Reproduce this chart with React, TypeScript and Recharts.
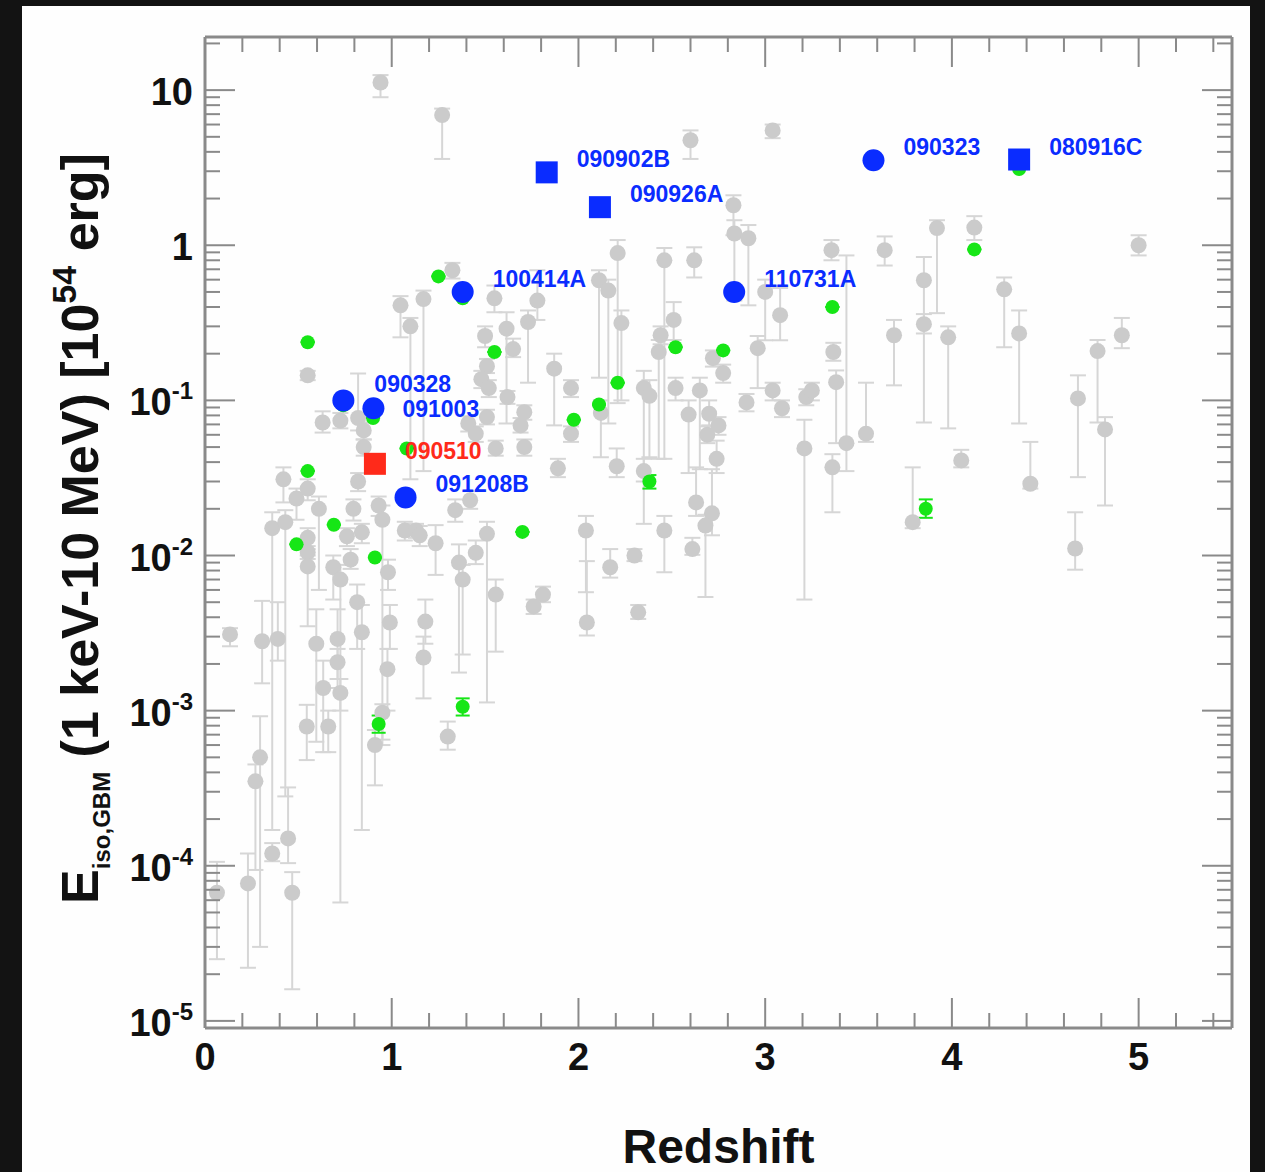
import React from "react";
import { ScatterChart, Scatter, XAxis, YAxis, ErrorBar } from "recharts";

// ---------------------------------------------------------------------------
// Data (redshift z, E_iso in 10^54 erg, error-bar low / high bounds)
// ---------------------------------------------------------------------------

const grayZ = [
  0.064, 0.23, 0.27, 0.295, 0.36, 0.445, 0.467, 0.545, 0.66, 0.91, 1.3, 0.95,
  0.134, 0.306, 0.39, 0.42, 0.36, 0.43, 0.49, 0.55, 0.55, 0.61, 0.55, 0.55, 0.55,
  0.596, 0.633, 0.687, 0.725, 0.71, 0.71, 0.725, 0.76, 0.78, 0.795, 0.815, 0.84,
  0.84, 0.82, 0.85, 0.82, 0.85, 0.725, 0.63, 0.93, 0.95, 0.98, 0.99, 0.977, 1.07,
  1.13, 1.15, 1.235, 1.18, 1.17, 1.34, 1.36, 1.38, 1.42, 1.45, 1.51, 1.557, 1.557,
  1.62, 1.71, 1.69, 1.71, 1.76, 1.81, 1.89, 1.96, 1.96, 2.04, 2.045, 1.41, 1.45,
  1.51, 0.94, 1.27, 2.6, 3.04, 2.83, 2.835, 2.91, 2.21, 2.46, 2.62, 2.23, 1.325,
  2.11, 2.16, 3.0, 3.08, 1.17, 1.1, 1.047, 1.55, 1.78, 1.73, 1.615, 1.5, 1.65,
  1.51, 1.48, 1.52, 1.87, 2.12, 2.35, 2.38, 2.43, 2.44, 2.51, 2.52, 2.65, 2.59,
  2.7, 2.69, 2.75, 2.74, 2.72, 2.775, 2.96, 2.9, 3.04, 3.09, 3.22, 3.25, 3.21,
  3.355, 3.64, 3.92, 4.12, 5.0, 3.85, 4.28, 3.365, 3.38, 3.435, 3.36, 3.54, 3.69,
  3.85, 3.98, 4.05, 3.79, 4.36, 4.42, 4.675, 4.78, 4.82, 4.91, 4.66, 2.63, 2.715,
  2.68, 2.61, 2.46, 2.3, 2.17, 2.32, 2.205, 2.35,
];
const grayE = [
  6.7e-5, 7.7e-5, 3.5e-4, 5.0e-4, 1.2e-4, 1.5e-4, 6.7e-5, 7.9e-4, 7.9e-4, 6.0e-4, 6.8e-4, 9.7e-4,
  3.1e-3, 2.8e-3, 2.9e-3, 0.031, 0.015, 0.0164, 0.0233, 0.027, 0.145, 0.02, 0.013, 0.0105, 0.0085,
  2.7e-3, 1.4e-3, 8.4e-3, 7.0e-3, 2.9e-3, 2.05e-3, 1.3e-3, 0.0133, 9.4e-3, 0.02, 5.0e-3, 3.2e-3,
  0.0141, 0.03, 0.05, 0.077, 0.064, 0.074, 0.072, 0.021, 0.017, 7.8e-3, 3.7e-3, 1.85e-3, 0.0145,
  0.0145, 0.0135, 0.012, 3.75e-3, 2.2e-3, 0.0196, 9.0e-3, 7.0e-3, 0.0227, 0.0104, 0.0138, 5.6e-3, 0.049,
  0.105, 0.05, 0.069, 0.084, 4.7e-3, 5.6e-3, 0.0365, 0.12, 0.061, 0.0145, 3.7e-3, 0.071, 0.061,
  0.078, 11.2, 6.9, 4.75, 5.5, 1.81, 1.19, 1.11, 0.89, 0.8, 0.8, 0.315, 0.69,
  0.595, 0.51, 0.5, 0.354, 0.45, 0.3, 0.41, 0.455, 0.44, 0.32, 0.29, 0.26, 0.214,
  0.166, 0.137, 0.12, 0.16, 0.083, 0.12, 0.107, 0.205, 0.263, 0.33, 0.12, 0.116, 0.081,
  0.082, 0.06, 0.069, 0.042, 0.187, 0.15, 0.217, 0.097, 0.116, 0.089, 0.105, 0.116, 0.049,
  0.93, 0.93, 1.29, 1.3, 1.0, 0.595, 0.52, 0.205, 0.131, 0.053, 0.037, 0.061, 0.263,
  0.31, 0.255, 0.041, 0.0164, 0.27, 0.029, 0.103, 0.208, 0.065, 0.263, 0.0111, 0.022, 0.0187,
  0.0156, 0.011, 0.0145, 0.01, 0.0084, 4.3e-3, 0.0376, 0.035,
];
const grayLo = [
  2.5e-5, 2.2e-5, 9.4e-5, 3.0e-5, 1.07e-4, 1.04e-4, 1.6e-5, 4.8e-4, 5.4e-4, 3.3e-4, 5.6e-4, 6.5e-4,
  2.6e-3, 1.5e-3, 2.1e-3, 0.022, 1.7e-4, 2.8e-4, 0.017, 0.0227, 0.135, 0.006, 0.011, 0.0095, 3.5e-3,
  6.3e-4, 5.4e-4, 5.2e-3, 5.8e-5, 1.6e-3, 1.4e-3, 1.0e-3, 0.0115, 8.2e-3, 0.0168, 2.5e-3, 1.7e-4,
  0.012, 0.026, 0.044, 0.064, 0.056, 0.066, 0.062, 0.018, 6.0e-4, 6.0e-3, 2.5e-3, 1.0e-3, 0.0125,
  0.013, 0.0115, 7.5e-3, 2.7e-3, 1.2e-3, 0.0165, 1.76e-3, 2.3e-3, 0.02, 8.8e-3, 1.13e-3, 2.4e-3, 0.044,
  0.095, 0.044, 0.062, 0.075, 4.2e-3, 5.0e-3, 0.032, 0.105, 0.054, 5.8e-3, 3.05e-3, 0.063, 0.054,
  0.07, 9.0, 3.6, 3.6, 4.9, 1.16, 0.44, 0.41, 0.096, 0.042, 0.62, 0.1, 0.61,
  0.14, 0.071, 0.244, 0.244, 0.035, 0.031, 0.255, 0.37, 0.33, 0.13, 0.071, 0.22, 0.19,
  0.15, 0.12, 0.105, 0.069, 0.043, 0.016, 0.043, 0.042, 0.23, 0.245, 0.1, 0.036, 0.034,
  0.069, 0.053, 0.06, 0.034, 0.165, 0.13, 0.12, 0.085, 0.1, 0.078, 0.093, 0.1, 5.2e-3,
  0.8, 0.74, 0.365, 1.08, 0.86, 0.072, 0.22, 0.18, 0.053, 0.035, 0.019, 0.054, 0.125,
  0.27, 0.066, 0.037, 0.015, 0.071, 0.027, 0.032, 0.072, 0.021, 0.217, 8.1e-3, 0.018, 0.0135,
  5.4e-3, 0.0101, 7.8e-3, 9.2e-3, 7.2e-3, 3.9e-3, 0.032, 0.03,
];
const grayHi = [
  1.06e-4, 1.2e-4, 4.5e-4, 9.2e-4, 1.4e-4, 3.2e-4, 9.1e-5, 1.09e-3, 1.0e-3, 7.5e-4, 8.5e-4, 1.1e-3,
  3.4e-3, 5.1e-3, 5.0e-3, 0.037, 0.019, 0.0196, 0.027, 0.031, 0.155, 0.024, 0.015, 0.0115, 0.01,
  4.5e-3, 2.1e-3, 0.01, 8.7e-3, 4.5e-3, 2.5e-3, 1.6e-3, 0.015, 0.011, 0.023, 6.5e-3, 4.8e-3,
  0.016, 0.034, 0.056, 0.149, 0.072, 0.083, 0.085, 0.024, 0.021, 9.4e-3, 4.8e-3, 2.5e-3, 0.0165,
  0.016, 0.0155, 0.0157, 5.2e-3, 3.0e-3, 0.023, 0.0118, 8.7e-3, 0.026, 0.0125, 0.0165, 7.0e-3, 0.055,
  0.115, 0.056, 0.077, 0.093, 5.2e-3, 6.3e-3, 0.042, 0.135, 0.068, 0.018, 9.2e-3, 0.079, 0.068,
  0.087, 12.5, 7.6, 5.5, 6.0, 2.1, 1.45, 1.35, 1.08, 0.96, 0.97, 0.38, 0.77,
  0.69, 0.6, 0.6, 0.53, 0.51, 0.34, 0.47, 0.55, 0.69, 0.38, 0.37, 0.3, 0.25,
  0.185, 0.155, 0.135, 0.2, 0.1, 0.155, 0.135, 0.245, 0.3, 0.43, 0.14, 0.14, 0.1,
  0.1, 0.068, 0.078, 0.055, 0.21, 0.17, 0.26, 0.11, 0.13, 0.1, 0.118, 0.13, 0.075,
  1.08, 1.14, 1.45, 1.54, 1.16, 0.84, 0.62, 0.235, 0.156, 0.86, 0.045, 0.13, 0.33,
  0.36, 0.3, 0.048, 0.037, 0.38, 0.054, 0.145, 0.245, 0.078, 0.34, 0.019, 0.037, 0.036,
  0.0183, 0.013, 0.018, 0.011, 0.011, 4.8e-3, 0.049, 0.042,
];

const greenZ = [
  0.55, 0.74, 0.9, 1.08, 0.55, 0.69, 0.49, 0.91, 0.93, 1.38, 1.25, 1.38,
  1.55, 1.7, 1.975, 2.11, 2.21, 2.38, 2.52, 2.775, 3.36, 4.12, 3.86, 4.36,
];
const greenE = [
  0.237, 0.093, 0.077, 0.049, 0.035, 0.0158, 0.0118, 0.0097, 8.2e-4, 1.06e-3, 0.63, 0.455,
  0.205, 0.0142, 0.075, 0.094, 0.13, 0.03, 0.22, 0.21, 0.4, 0.94, 0.02, 3.1,
];
const greenLo = [
  0.237, 0.093, 0.077, 0.049, 0.035, 0.0158, 0.0118, 0.0097, 7.2e-4, 9.3e-4, 0.63, 0.455,
  0.205, 0.0142, 0.075, 0.094, 0.13, 0.027, 0.22, 0.21, 0.4, 0.94, 0.0175, 3.1,
];
const greenHi = [
  0.237, 0.093, 0.077, 0.049, 0.035, 0.0158, 0.0118, 0.0097, 9.3e-4, 1.2e-3, 0.63, 0.455,
  0.205, 0.0142, 0.075, 0.094, 0.13, 0.033, 0.22, 0.21, 0.4, 0.94, 0.023, 3.1,
];

const circleNames = ["090328", "091003", "091208B", "100414A", "110731A", "090323"];
const circleZ = [0.741, 0.902, 1.074, 1.38, 2.834, 3.58];
const circleE = [0.1, 0.089, 0.0237, 0.5, 0.5, 3.53];

const squareNames = ["090902B", "090926A", "080916C"];
const squareZ = [1.83, 2.115, 4.36];
const squareE = [2.95, 1.76, 3.57];

const redNames = ["090510"];
const redZ = [0.91];
const redE = [0.039];

// ---------------------------------------------------------------------------
// Styling
// ---------------------------------------------------------------------------

const FONT = "'Liberation Sans', Arial, Helvetica, sans-serif";
const FRAME = "#8a8a8a";
const BLUE = "#0a2cff";
const RED = "#ff2a1a";
const GREEN = "#16e616";
const GRAY = "#cbcbcb";

// label offset (px) from marker centre, per burst name
const labelOffset: Record<string, [number, number]> = {
  "090328": [31, -17],
  "091003": [29, 0],
};

const Y_DOMAIN: [number, number] = [9e-6, 22];
const X_DOMAIN: [number, number] = [0, 5.5];

const xTicks = Array.from({ length: 28 }, (_, i) => Number((i * 0.2).toFixed(1)));
const yTicks: number[] = [];
for (let e = -6; e <= 1; e++) {
  for (let m = 1; m <= 9; m++) {
    const v = m * Math.pow(10, e);
    if (v >= Y_DOMAIN[0] && v <= Y_DOMAIN[1]) yTicks.push(v);
  }
}

const isMajorY = (v: number) => {
  const e = Math.round(Math.log10(v));
  return Math.abs(v / Math.pow(10, e) - 1) < 1e-6;
};
const isMajorX = (v: number) => Math.abs(v - Math.round(v)) < 1e-6;

// ---------------------------------------------------------------------------
// Axis ticks
// ---------------------------------------------------------------------------

const LeftTick = ({ x, y, payload }: any) => {
  const v = payload.value;
  const major = isMajorY(v);
  const exp = Math.round(Math.log10(v));
  return (
    <g>
      <line x1={x} x2={x + (major ? 30 : 15)} y1={y} y2={y} stroke={FRAME} strokeWidth={2} />
      {major && (
        <text x={x - 12} y={y + 15} textAnchor="end" fontSize={38} fontWeight={700} fontFamily={FONT} fill="#111">
          {exp === 1 ? "10" : exp === 0 ? "1" : (
            <>
              <tspan>10</tspan>
              <tspan dy={-16} fontSize={24}>{String(exp)}</tspan>
            </>
          )}
        </text>
      )}
    </g>
  );
};

const RightTick = ({ x, y, payload }: any) => {
  const major = isMajorY(payload.value);
  return <line x1={x} x2={x - (major ? 30 : 15)} y1={y} y2={y} stroke={FRAME} strokeWidth={2} />;
};

const BottomTick = ({ x, y, payload }: any) => {
  const v = payload.value;
  const major = isMajorX(v);
  return (
    <g>
      <line x1={x} x2={x} y1={y} y2={y - (major ? 30 : 15)} stroke={FRAME} strokeWidth={2} />
      {major && (
        <text x={x} y={y + 42} textAnchor="middle" fontSize={38} fontWeight={700} fontFamily={FONT} fill="#111">
          {String(Math.round(v))}
        </text>
      )}
    </g>
  );
};

const TopTick = ({ x, y, payload }: any) => {
  const major = isMajorX(payload.value);
  return <line x1={x} x2={x} y1={y} y2={y + (major ? 30 : 15)} stroke={FRAME} strokeWidth={2} />;
};

// ---------------------------------------------------------------------------
// Axis titles
// ---------------------------------------------------------------------------

const XTitle = (props: any) => {
  const vb = props.viewBox || { x: 205, y: 1028, width: 1027, height: 100 };
  return (
    <text x={vb.x + vb.width / 2} y={vb.y + 135} textAnchor="middle" fontSize={48} fontWeight={700} fontFamily={FONT} fill="#111">
      Redshift
    </text>
  );
};

const YTitle = (props: any) => {
  const vb = props.viewBox || { x: 85, y: 37, width: 120, height: 991 };
  const cy = vb.y + vb.height / 2 - 4;
  return (
    <text
      transform={`translate(98,${cy}) rotate(-90)`}
      textAnchor="middle"
      fontSize={52}
      fontWeight={700}
      fontFamily={FONT}
      fill="#111"
      style={{ whiteSpace: "pre" }}
    >
      <tspan>E</tspan>
      <tspan fontSize={24} dy={12}>iso,GBM</tspan>
      <tspan dy={-12}> (1 keV-10 MeV) [10</tspan>
      <tspan fontSize={34} dy={-22}>54</tspan>
      <tspan dy={22}> erg]</tspan>
    </text>
  );
};

// ---------------------------------------------------------------------------
// Markers
// ---------------------------------------------------------------------------

const GrayDot = ({ cx, cy }: any) => <circle cx={cx} cy={cy} r={8} fill={GRAY} />;
const GreenDot = ({ cx, cy }: any) => <circle cx={cx} cy={cy} r={7} fill={GREEN} />;

const namedMark = (kind: "circle" | "square", color: string) => (props: any) => {
  const { cx, cy, payload } = props;
  const [dx, dy] = labelOffset[payload.name] ?? [30, -14];
  return (
    <g>
      {kind === "circle" ? (
        <circle cx={cx} cy={cy} r={11} fill={color} />
      ) : (
        <rect x={cx - 11} y={cy - 11} width={22} height={22} fill={color} />
      )}
      <text x={cx + dx} y={cy + dy + 9} fontSize={23} fontWeight={700} fontFamily={FONT} fill={color}>
        {payload.name}
      </text>
    </g>
  );
};

const withErr = (z: number[], e: number[], lo: number[], hi: number[]) =>
  z.map((zz, i) => ({ z: zz, e: e[i], err: [e[i] - lo[i], hi[i] - e[i]] }));

const named = (names: string[], z: number[], e: number[]) =>
  names.map((name, i) => ({ name, z: z[i], e: e[i] }));

const grayData = withErr(grayZ, grayE, grayLo, grayHi);
const greenData = withErr(greenZ, greenE, greenLo, greenHi);
const circleData = named(circleNames, circleZ, circleE);
const squareData = named(squareNames, squareZ, squareE);
const redData = named(redNames, redZ, redE);

// ---------------------------------------------------------------------------
// App
// ---------------------------------------------------------------------------

export default function App() {
  return (
    <div style={{ position: "absolute", left: 0, top: 0, width: 1265, height: 1172, background: "#131313", overflow: "hidden" }}>
      <div style={{ position: "absolute", left: 22, top: 6, width: 1228, height: 1166, background: "#fefefe" }} />
      <div style={{ position: "absolute", left: 0, top: 0 }}>
        <ScatterChart width={1265} height={1172} margin={{ top: 36, right: 32, bottom: 44, left: 85 }}>
          <XAxis
            xAxisId="b"
            dataKey="z"
            type="number"
            domain={X_DOMAIN}
            allowDataOverflow
            ticks={xTicks}
            interval={0}
            tick={(p: any) => <BottomTick {...p} />}
            tickLine={false}
            tickSize={0}
            tickMargin={0}
            height={100}
            axisLine={{ stroke: FRAME, strokeWidth: 3 }}
            label={{ value: "Redshift", content: XTitle }}
          />
          <XAxis
            xAxisId="t"
            orientation="top"
            dataKey="z"
            type="number"
            domain={X_DOMAIN}
            allowDataOverflow
            ticks={xTicks}
            interval={0}
            tick={(p: any) => <TopTick {...p} />}
            tickLine={false}
            tickSize={0}
            tickMargin={0}
            height={1}
            axisLine={{ stroke: FRAME, strokeWidth: 3 }}
          />
          <YAxis
            yAxisId="l"
            dataKey="e"
            type="number"
            scale="log"
            domain={Y_DOMAIN}
            allowDataOverflow
            ticks={yTicks}
            interval={0}
            tick={(p: any) => <LeftTick {...p} />}
            tickLine={false}
            tickSize={0}
            tickMargin={0}
            width={120}
            axisLine={{ stroke: FRAME, strokeWidth: 3 }}
            label={{ value: "E", content: YTitle }}
          />
          <YAxis
            yAxisId="r"
            orientation="right"
            dataKey="e"
            type="number"
            scale="log"
            domain={Y_DOMAIN}
            allowDataOverflow
            ticks={yTicks}
            interval={0}
            tick={(p: any) => <RightTick {...p} />}
            tickLine={false}
            tickSize={0}
            tickMargin={0}
            width={1}
            axisLine={{ stroke: FRAME, strokeWidth: 3 }}
          />
          <Scatter xAxisId="b" yAxisId="l" data={grayData} shape={GrayDot} isAnimationActive={false}>
            <ErrorBar dataKey="err" direction="y" width={8} stroke="#d6d6d6" strokeWidth={2} isAnimationActive={false} />
          </Scatter>
          <Scatter xAxisId="b" yAxisId="l" data={greenData} shape={GreenDot} isAnimationActive={false}>
            <ErrorBar dataKey="err" direction="y" width={7} stroke={GREEN} strokeWidth={2} isAnimationActive={false} />
          </Scatter>
          <Scatter xAxisId="b" yAxisId="l" data={circleData} shape={namedMark("circle", BLUE)} isAnimationActive={false} />
          <Scatter xAxisId="b" yAxisId="l" data={squareData} shape={namedMark("square", BLUE)} isAnimationActive={false} />
          <Scatter xAxisId="b" yAxisId="l" data={redData} shape={namedMark("square", RED)} isAnimationActive={false} />
        </ScatterChart>
      </div>
    </div>
  );
}
